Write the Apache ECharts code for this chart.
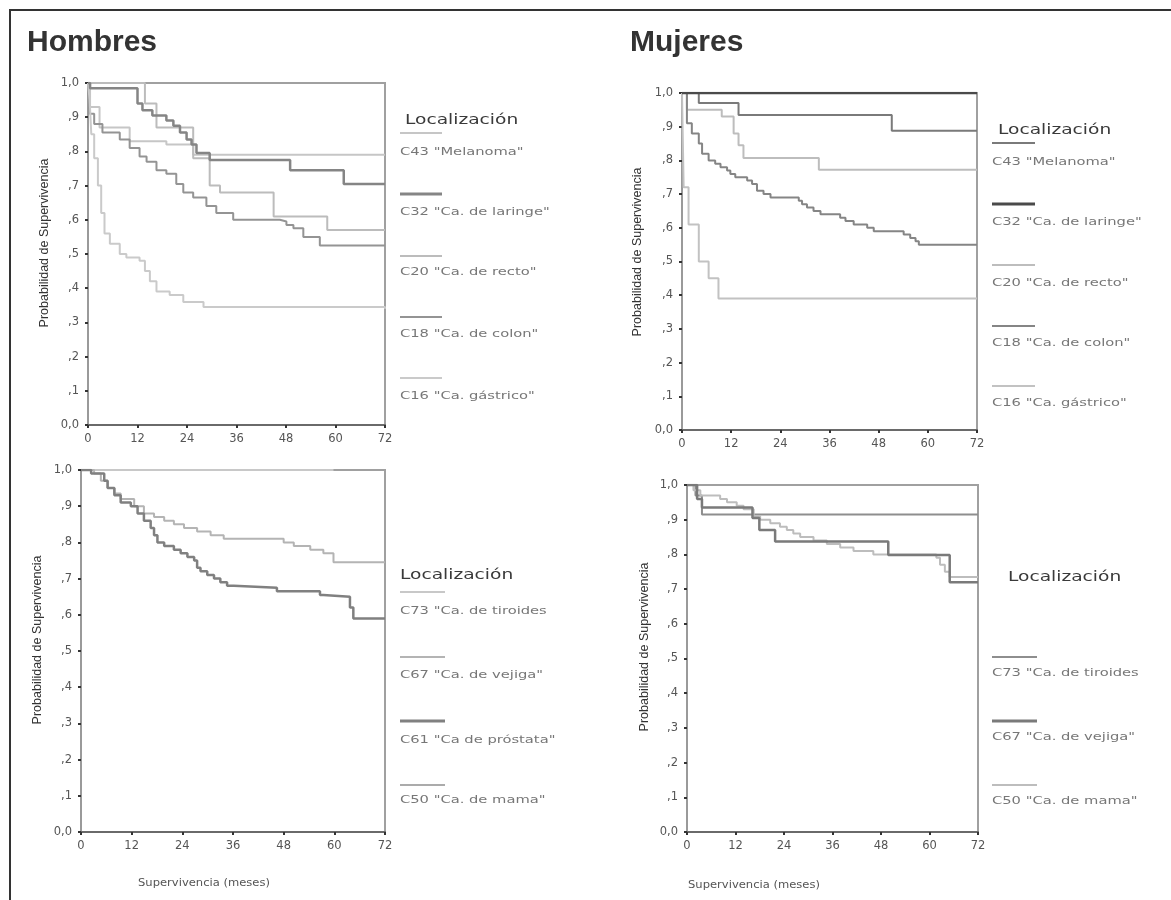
<!DOCTYPE html>
<html>
<head>
<meta charset="utf-8">
<script src="https://cdn.jsdelivr.net/npm/echarts@6/dist/echarts.min.js"></script>
<style>
  html, body { margin: 0; padding: 0; background: #fff; }
  #chart { width: 1171px; height: 900px; }
</style>
</head>
<body>
<div id="chart"></div>
<script>
// ---------- DATA ----------
const xTickValues = [0, 12, 24, 36, 48, 60, 72];
const yTickLabels = ['0,0', ',1', ',2', ',3', ',4', ',5', ',6', ',7', ',8', ',9', '1,0'];
const panelTitles = ['Hombres', 'Mujeres'];
const legendTitle = 'Localización';
const yAxisTitle = 'Probabilidad de Supervivencia';
const xAxisTitle = 'Supervivencia (meses)';

// Series names
const digestivoNames = ['C43 "Melanoma"', 'C32 "Ca. de laringe"', 'C20 "Ca. de recto"', 'C18 "Ca. de colon"', 'C16 "Ca. gástrico"'];
const hombresBajoNames = ['C73 "Ca. de tiroides', 'C67 "Ca. de vejiga"', 'C61 "Ca de próstata"', 'C50 "Ca. de mama"'];
const mujeresBajoNames = ['C73 "Ca. de tiroides', 'C67 "Ca. de vejiga"', 'C50 "Ca. de mama"'];

// Hombres (top) - [months, survival]
const hMelanoma = [[0,1],[0.5,0.93],[2.8,0.87],[10.1,0.83],[19,0.82],[25.5,0.79],[72,0.79]];
const hLaringe = [[0,1],[0.5,0.985],[12,0.94],[13.2,0.92],[15.6,0.905],[19,0.89],[20.7,0.875],[22.3,0.855],[23.9,0.835],[25.1,0.82],[26.3,0.795],[29.5,0.775],[49,0.745],[62,0.705],[72,0.705]];
const hRecto = [[0,1],[13.8,0.94],[16.6,0.87],[25.5,0.78],[29.5,0.70],[32,0.68],[45,0.61],[58,0.57],[72,0.57]];
const hColon = [[0,1],[0.4,0.91],[1.5,0.88],[3.5,0.855],[7.7,0.835],[10.1,0.81],[12.5,0.785],[14.2,0.77],[16.6,0.745],[19,0.735],[21.4,0.705],[23.1,0.68],[25.5,0.665],[28.7,0.64],[31.1,0.62],[35.2,0.60],[46.5,0.595],[48.1,0.585],[49.8,0.575],[52.2,0.55],[56.2,0.525],[72,0.525]];
const hGastrico = [[0,1],[0.4,0.95],[0.8,0.85],[1.5,0.78],[2.4,0.70],[3.2,0.62],[4,0.56],[5.3,0.53],[7.7,0.50],[9.3,0.49],[12.5,0.48],[13.8,0.45],[15,0.42],[16.6,0.39],[19.8,0.38],[23.1,0.36],[28,0.345],[72,0.34]];

// Mujeres (top)
const mMelanoma = [[0,1],[4.1,0.97],[13.8,0.935],[51.2,0.888],[72,0.888]];
const mLaringe = [[0,1],[72,1]];
const mRecto = [[0,1],[1.2,0.95],[9.7,0.93],[12.6,0.88],[13.8,0.845],[15,0.807],[33.4,0.772],[72,0.772]];
const mColon = [[0,1],[1.2,0.91],[2.4,0.88],[4.1,0.85],[4.9,0.82],[6.5,0.80],[8.1,0.79],[9.4,0.78],[11,0.77],[11.8,0.76],[13,0.75],[15.9,0.74],[17.1,0.73],[18.3,0.71],[19.9,0.70],[21.6,0.69],[28.5,0.68],[29.3,0.67],[30.5,0.66],[32.1,0.65],[33.8,0.64],[38.6,0.63],[39.9,0.62],[41.9,0.61],[45.2,0.60],[46.8,0.59],[54.1,0.58],[55.7,0.57],[57,0.56],[57.8,0.55],[72,0.55]];
const mGastrico = [[0,1],[0.4,0.72],[1.6,0.61],[4.1,0.50],[6.5,0.45],[8.9,0.39],[72,0.39]];

// Hombres (bottom)
const hTiroides = [[0,1],[59.8,1]];
const hVejiga = [[0,1],[3.1,0.99],[4.7,0.97],[6.3,0.95],[7.9,0.935],[9.4,0.92],[12.6,0.90],[14.9,0.88],[17.3,0.87],[19.7,0.86],[22,0.85],[24.4,0.84],[27.5,0.83],[30.7,0.82],[33.8,0.81],[48,0.80],[50.4,0.79],[54.3,0.78],[57.4,0.77],[59.8,0.745],[72,0.745]];
const hProstata = [[0,1],[2.4,0.99],[5.5,0.97],[6.3,0.95],[7.9,0.93],[9.4,0.91],[11.8,0.90],[13.4,0.88],[14.9,0.86],[16.5,0.84],[17.3,0.82],[18.1,0.80],[19.7,0.79],[22,0.78],[23.6,0.77],[25.2,0.76],[26.8,0.75],[27.5,0.73],[28.3,0.72],[29.9,0.71],[31.5,0.70],[33,0.69],[34.6,0.68],[36.2,0.675],[46.4,0.665],[56.6,0.655],[57.4,0.65],[63.7,0.62],[64.5,0.59],[72,0.59]];
const hMama = [];

// Mujeres (bottom)
const mTiroides = [[0,1],[2.1,0.97],[3.7,0.915],[72,0.915]];
const mVejiga = [[0,1],[2.5,0.96],[3.7,0.935],[16.2,0.905],[17.9,0.87],[21.8,0.837],[49.8,0.798],[65,0.72],[72,0.72]];
const mMama = [[0,1],[1.6,0.985],[3.3,0.97],[8.2,0.96],[9.9,0.95],[12.3,0.94],[14,0.93],[16.5,0.91],[18.1,0.90],[20.6,0.89],[23,0.88],[24.7,0.87],[26.3,0.86],[28,0.85],[31.3,0.84],[34.6,0.83],[37.9,0.82],[41.2,0.81],[46.1,0.80],[61.7,0.79],[62.6,0.77],[63.8,0.75],[65,0.735],[72,0.735]];

// ---------- LAYOUT / STYLE ----------
const panels = [
  { grid: {left: 88, top: 83, width: 297, height: 342},
    data: [hMelanoma, hLaringe, hRecto, hColon, hGastrico], names: digestivoNames,
    colors: ['#c6c6c6', '#858585', '#bcbcbc', '#949494', '#cacaca'],
    widths: [2, 2.5, 2, 2, 2],
    legend: {tx: 405, ty: 120, lx: 400, lw: 42, lines: [133,194,256,317,378], texts: [152,212,272,334,396]},
    yTitle: {x: 45, y: 243}, xTitle: null },
  { grid: {left: 682, top: 93, width: 295, height: 337},
    data: [mMelanoma, mLaringe, mRecto, mColon, mGastrico], names: digestivoNames,
    colors: ['#7a7a7a', '#4a4a4a', '#bdbdbd', '#858585', '#c2c2c2'],
    widths: [2, 2.5, 2, 2, 2],
    legend: {tx: 998, ty: 130, lx: 992, lw: 43, lines: [143,204,265,326,386], texts: [162,222,283,343,403]},
    yTitle: {x: 638, y: 252}, xTitle: null },
  { grid: {left: 81, top: 470, width: 304, height: 362},
    data: [hTiroides, hVejiga, hProstata, hMama], names: hombresBajoNames,
    colors: ['#c8c8c8', '#b4b4b4', '#808080', '#ababab'],
    widths: [2, 2, 2.5, 2],
    legend: {tx: 400, ty: 575, lx: 400, lw: 45, lines: [592,657,721,785], texts: [611,675,740,800]},
    yTitle: {x: 38, y: 640}, xTitle: {x: 138, y: 883} },
  { grid: {left: 687, top: 485, width: 291, height: 347},
    data: [mTiroides, mVejiga, mMama], names: mujeresBajoNames,
    colors: ['#8e8e8e', '#7a7a7a', '#bdbdbd'],
    widths: [2, 2.5, 2],
    legend: {tx: 1008, ty: 577, lx: 992, lw: 45, lines: [657,721,785], texts: [673,737,801]},
    yTitle: {x: 645, y: 647}, xTitle: {x: 688, y: 885} }
];

const tickFont = 'DejaVu Sans';
const grids = [], xAxes = [], yAxes = [], series = [], graphics = [];

panels.forEach((p, i) => {
  grids.push(Object.assign({show: true, borderColor: '#a0a0a0', borderWidth: 2, backgroundColor: 'transparent'}, p.grid));
  xAxes.push({
    type: 'value', gridIndex: i, min: 0, max: 72, interval: 12,
    axisLine: {show: true, lineStyle: {color: '#6a6a6a', width: 2}},
    axisTick: {show: true, length: 3, lineStyle: {color: '#333', width: 2}},
    axisLabel: {fontFamily: tickFont, fontSize: 11.5, color: '#555', margin: 8,
                formatter: v => String(xTickValues[xTickValues.indexOf(v)])},
    splitLine: {show: false}
  });
  yAxes.push({
    type: 'value', gridIndex: i, min: 0, max: 1, interval: 0.1,
    axisLine: {show: true, lineStyle: {color: '#9a9a9a', width: 2}},
    axisTick: {show: true, length: 3, lineStyle: {color: '#333', width: 2}},
    axisLabel: {fontFamily: tickFont, fontSize: 11.5, color: '#555', margin: 9,
                formatter: v => yTickLabels[Math.round(v * 10)]},
    splitLine: {show: false}
  });
  p.data.forEach((d, k) => {
    series.push({
      type: 'line', name: p.names[k], xAxisIndex: i, yAxisIndex: i,
      data: d, step: 'end', showSymbol: false, symbol: 'none',
      lineStyle: {color: p.colors[k], width: p.widths[k]},
      itemStyle: {color: p.colors[k]},
      animation: false, silent: true, z: 2 + (p.widths[k] > 2 ? 1 : 0)
    });
  });
  // legend block
  const L = p.legend;
  graphics.push({type: 'text', x: L.tx, y: L.ty, scaleX: 1.33,
    style: {text: legendTitle, fontFamily: tickFont, fontSize: 14, fill: '#3a3a3a', align: 'left', verticalAlign: 'middle'}});
  p.names.forEach((n, k) => {
    graphics.push({type: 'line', shape: {x1: L.lx, y1: L.lines[k], x2: L.lx + L.lw, y2: L.lines[k]},
      style: {stroke: p.colors[k], lineWidth: p.widths[k] > 2 ? 3 : 2}});
    graphics.push({type: 'text', x: L.lx, y: L.texts[k], scaleX: 1.4,
      style: {text: n, fontFamily: tickFont, fontSize: 10.5, fill: '#777', align: 'left', verticalAlign: 'middle'}});
  });
  // y-axis title (rotated)
  graphics.push({type: 'text', x: p.yTitle.x, y: p.yTitle.y, rotation: Math.PI / 2,
    style: {text: yAxisTitle, fontFamily: 'Liberation Sans', fontSize: 12.5, fill: '#333', align: 'center', verticalAlign: 'middle'}});
  if (p.xTitle) {
    graphics.push({type: 'text', x: p.xTitle.x, y: p.xTitle.y, scaleX: 1.05,
      style: {text: xAxisTitle, fontFamily: tickFont, fontSize: 11, fill: '#555', align: 'left', verticalAlign: 'middle'}});
  }
});

// page titles and frame
graphics.push({type: 'text', x: 27, y: 43, style: {text: panelTitles[0], fontFamily: 'Liberation Sans', fontWeight: 'bold', fontSize: 30, fill: '#333', align: 'left', verticalAlign: 'middle'}});
graphics.push({type: 'text', x: 630, y: 43, style: {text: panelTitles[1], fontFamily: 'Liberation Sans', fontWeight: 'bold', fontSize: 30, fill: '#333', align: 'left', verticalAlign: 'middle'}});
graphics.push({type: 'line', shape: {x1: 9, y1: 10, x2: 1171, y2: 10}, style: {stroke: '#333', lineWidth: 2}});
graphics.push({type: 'line', shape: {x1: 10, y1: 9, x2: 10, y2: 900}, style: {stroke: '#333', lineWidth: 2}});

const chart = echarts.init(document.getElementById('chart'), null, {renderer: 'canvas'});
chart.setOption({
  backgroundColor: '#ffffff',
  animation: false,
  grid: grids,
  xAxis: xAxes,
  yAxis: yAxes,
  series: series,
  graphic: graphics
});
</script>
</body>
</html>
